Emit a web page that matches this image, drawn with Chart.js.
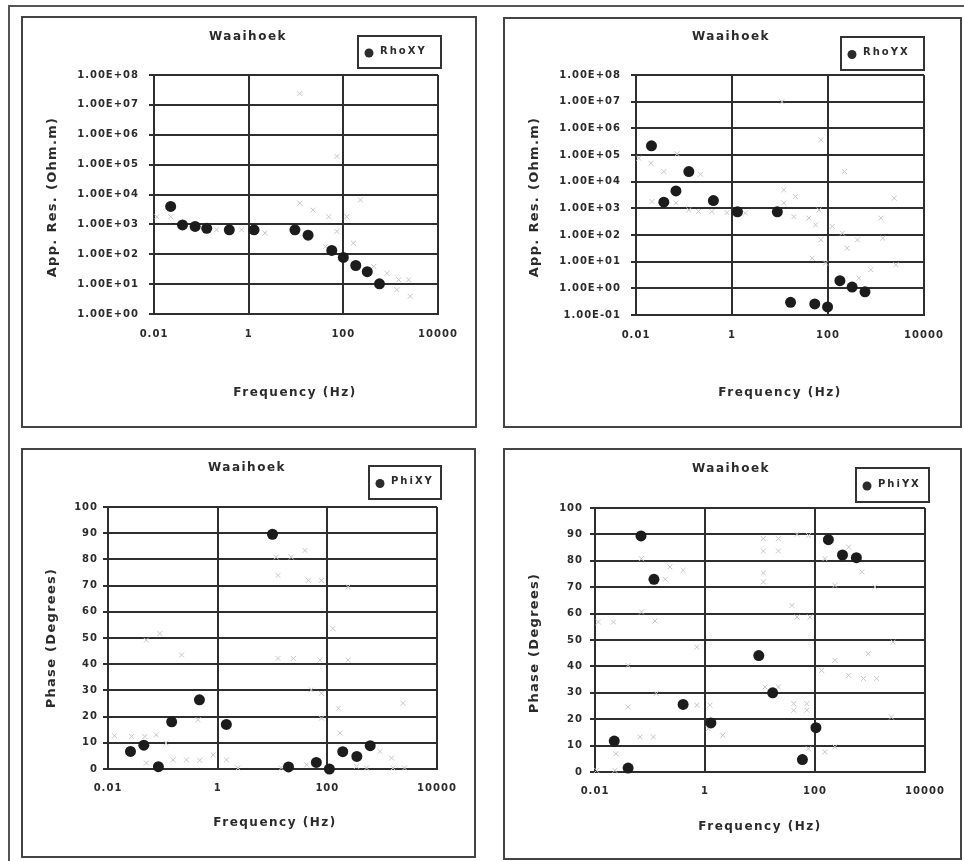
<!DOCTYPE html>
<html>
<head>
<meta charset="utf-8">
<script src="https://cdn.jsdelivr.net/npm/chart.js@4.4.1/dist/chart.umd.min.js"></script>
<style>
    body { margin: 0; background: #fff; width: 964px; height: 861px; overflow: hidden; position: relative; }
    .frame { position: absolute; left: 8px; top: 5px; width: 980px; height: 880px; border-left: 2px solid #555; border-top: 2px solid #555; }
    .panel { position: absolute; border: 2px solid #444; box-sizing: border-box; }
    .panel canvas { position: absolute; left: 0; top: 0; }
</style>
</head>
<body>
<div class="frame"></div>
<div class="panel" id="p1"><canvas id="c1"></canvas></div>
<div class="panel" id="p2"><canvas id="c2"></canvas></div>
<div class="panel" id="p3"><canvas id="c3"></canvas></div>
<div class="panel" id="p4"><canvas id="c4"></canvas></div>
<script>
// tick labels
var freqTicks = [0.01, 1, 100, 10000];
var freqLabels = ['0.01', '1', '100', '10000'];
var resTicksXY = [1, 10, 100, 1e3, 1e4, 1e5, 1e6, 1e7, 1e8];
var resTicksYX = [0.1, 1, 10, 100, 1e3, 1e4, 1e5, 1e6, 1e7, 1e8];

// RhoXY
var rhoXYFreq = [0.0225, 0.040, 0.074, 0.13, 0.39, 1.3, 9.5, 18, 57, 100, 183, 320, 580];
var rhoXYVal = [3980, 960, 850, 740, 660, 660, 660, 435, 134, 78, 42, 26, 10.2];
var rhoXYFaintFreq = [0.0115, 0.0225, 0.21, 0.71, 2.2, 12, 73, 12, 23, 49, 73, 118, 230, 42, 163, 440, 830, 1480, 2400, 1350, 2570];
var rhoXYFaintVal = [1800, 1800, 660, 660, 510, 2.4e7, 1.9e5, 5100, 3000, 1800, 580, 1800, 6600, 180, 235, 39, 23, 14, 14, 6.5, 3.9];

// RhoYX
var rhoYXFreq = [0.021, 0.038, 0.068, 0.126, 0.41, 1.3, 8.8, 16.6, 53, 98, 177, 318, 590];
var rhoYXVal = [2.2e5, 1700, 4500, 24000, 1950, 740, 740, 0.30, 0.26, 0.20, 1.93, 1.12, 0.74];
var rhoYXFaintFreq = [0.0114, 0.0205, 0.038, 0.072, 0.22, 0.0215, 0.068, 0.126, 0.2, 0.38, 0.79, 1.9, 11, 71, 220, 12, 21, 12, 19.5, 40, 65, 55, 123, 200, 410, 1380, 1260, 2400, 71, 47, 89, 250, 780, 440, 2600];
var rhoYXFaintVal = [7.6e4, 4.9e4, 2.4e4, 1.1e5, 1.9e4, 1800, 1600, 870, 760, 760, 690, 660, 1e7, 3.7e5, 2.4e4, 4900, 2800, 1600, 490, 430, 870, 240, 210, 117, 66, 76, 430, 2400, 66, 13.5, 8.9, 32, 5, 2.4, 7.6];

// PhiXY
var phiXYFreq = [0.0257, 0.045, 0.083, 0.145, 0.465, 1.44, 10, 19.6, 63, 109, 191, 345, 605];
var phiXYVal = [6.7, 9.1, 0.9, 18, 26.4, 17, 89.6, 0.8, 2.5, 0, 6.6, 4.8, 8.9];
var phiXYFaintFreq = [0.0132, 0.027, 0.047, 0.076, 0.114, 0.05, 0.154, 0.27, 0.47, 0.83, 1.45, 2.35, 0.05, 0.088, 0.22, 0.44, 11.7, 22, 39, 12.6, 45, 78, 240, 12.6, 24, 73, 240, 51, 78, 160, 78, 170, 2400, 910, 1480, 126, 14.5, 42, 340, 520, 1580, 2560];
var phiXYFaintVal = [12.7, 12.4, 12.4, 13, 9.9, 2.3, 3.5, 3.5, 3.3, 5.4, 3.5, 0.4, 49.2, 51.7, 43.5, 18.8, 80.9, 80.9, 83.4, 73.9, 72, 72, 69.5, 42.2, 42.2, 41.6, 41.6, 30.2, 28.9, 23.2, 19.4, 13.7, 25.1, 6.7, 4.2, 53.6, 0.4, 1.6, 1, 0.4, 0.4, 0.4];

// PhiYX
var phiYXFreq = [0.0224, 0.040, 0.0686, 0.118, 0.40, 1.28, 9.5, 17, 59, 104, 175, 316, 565];
var phiYXVal = [11.7, 1.5, 89.4, 73, 25.6, 18.6, 44.1, 30, 4.7, 16.8, 88, 82.2, 81.2];
var phiYXFaintFreq = [0.0107, 0.023, 0.024, 0.04, 0.066, 0.115, 0.13, 0.04, 0.0115, 0.0216, 0.07, 0.123, 0.07, 0.19, 0.23, 0.4, 0.71, 0.71, 1.23, 1.15, 2.1, 11.5, 21.6, 11.5, 21.6, 47, 76, 11.5, 11.5, 38, 47, 81, 12.3, 21.6, 41, 71, 41, 71, 76, 151, 230, 151, 410, 710, 230, 1230, 230, 132, 410, 760, 1320, 930, 2630, 2450];
var phiYXFaintVal = [0.6, 0.6, 6.9, 24.6, 13.3, 13.3, 29.7, 40.4, 56.8, 56.8, 60.6, 57.2, 80.8, 73, 77.7, 76.4, 47.3, 25.3, 25.3, 16.4, 13.9, 88.4, 88.4, 83.7, 83.7, 90, 89.6, 75.4, 72, 63.1, 58.7, 58.7, 32.2, 32.2, 25.9, 25.9, 23.4, 23.4, 8.8, 7.6, 9.5, 80.8, 85.2, 75.8, 70.7, 70.1, 42.3, 38.5, 36.6, 35.4, 35.4, 44.8, 49.2, 20.8];

var FONT = 'DejaVu Sans';
var INK = '#2b2b2b';

function pts(xs, ys) {
    return xs.map(function (x, i) { return { x: x, y: ys[i] }; });
}

function sciLabel(v) {
    var e = Math.round(Math.log10(v));
    return '1.00E' + (e < 0 ? '-' : '+') + String(Math.abs(e)).padStart(2, '0');
}

// titles, legend box, axis titles
var panelText = {
    id: 'panelText',
    beforeDraw: function (chart) {
        chart.ctx.letterSpacing = '1px';
    },
    afterDraw: function (chart, args, o) {
        var ctx = chart.ctx;
        ctx.save();
        ctx.translate(-o.ox, -o.oy);
        ctx.fillStyle = INK;
        ctx.textAlign = 'center';
        ctx.textBaseline = 'middle';

        ctx.letterSpacing = '1.5px';
        ctx.font = 'bold 12px ' + FONT;
        ctx.fillText('Waaihoek', o.title[0], o.title[1]);
        ctx.fillText('Frequency (Hz)', o.xTitle[0], o.xTitle[1]);

        ctx.save();
        ctx.letterSpacing = '1.3px';
        ctx.font = 'bold 13px ' + FONT;
        ctx.translate(o.yTitle[0], o.yTitle[1]);
        ctx.rotate(-Math.PI / 2);
        ctx.fillText(o.yText, 0, 0);
        ctx.restore();

        // legend
        var L = o.legend;
        ctx.strokeStyle = '#333';
        ctx.lineWidth = 2;
        ctx.strokeRect(L[0], L[1], L[2], L[3]);
        ctx.beginPath();
        ctx.arc(L[0] + 11, L[1] + L[3] / 2 + 1, 4.5, 0, Math.PI * 2);
        ctx.fill();
        ctx.textAlign = 'left';
        ctx.letterSpacing = '2px';
        ctx.font = 'bold 10px ' + FONT;
        ctx.fillText(o.name, L[0] + 22, L[1] + L[3] / 2 - 1);
        ctx.restore();
    }
};

function makePanel(n, lay, main, faint, yCfg) {
    var div = document.getElementById('p' + n);
    div.style.left = lay.box[0] + 'px';
    div.style.top = lay.box[1] + 'px';
    div.style.width = lay.box[2] + 'px';
    div.style.height = lay.box[3] + 'px';
    var cv = document.getElementById('c' + n);
    var ox = lay.box[0] + 2, oy = lay.box[1] + 2;
    var cw = lay.box[2] - 4, ch = lay.box[3] - 4;
    cv.width = cw;
    cv.height = ch;
    var p = lay.plot;

    var tickFont = { family: FONT, size: 10, weight: 'bold' };

    yCfg.afterFit = function (s) { s.width = p[0] - ox; };
    yCfg.grid = { color: '#2e2e2e', lineWidth: 2, drawTicks: true, tickLength: 5, tickColor: '#2e2e2e' };
    yCfg.border = { color: '#2e2e2e', width: 2 };
    yCfg.ticks.font = tickFont;
    yCfg.ticks.color = INK;
    yCfg.ticks.padding = lay.yPad;
    yCfg.ticks.autoSkip = false;

    return new Chart(cv, {
        type: 'scatter',
        data: {
            datasets: [{
                label: lay.name,
                data: main,
                pointRadius: 5.5,
                pointBackgroundColor: '#1c1c1c',
                pointBorderColor: '#1c1c1c',
                pointBorderWidth: 0,
                clip: false
            }, {
                label: 'faint',
                data: faint,
                pointStyle: 'crossRot',
                pointRadius: 3.5,
                pointBorderColor: '#c6c6c6',
                pointBorderWidth: 1,
                clip: false
            }]
        },
        options: {
            responsive: false,
            animation: false,
            events: [],
            layout: { padding: { left: 0, top: p[1] - oy, right: ox + cw - p[2], bottom: 0 } },
            scales: {
                x: {
                    type: 'logarithmic',
                    min: 0.01,
                    max: 10000,
                    afterBuildTicks: function (s) {
                        s.ticks = freqTicks.map(function (v) { return { value: v }; });
                    },
                    afterFit: function (s) { s.height = oy + ch - p[3]; },
                    ticks: {
                        callback: function (v) { return freqLabels[freqTicks.indexOf(v)]; },
                        font: tickFont,
                        color: INK,
                        padding: lay.xPad,
                        maxRotation: 0,
                        autoSkip: false
                    },
                    grid: { color: '#2e2e2e', lineWidth: 2, drawTicks: false },
                    border: { color: '#2e2e2e', width: 2 }
                },
                y: yCfg
            },
            plugins: {
                legend: { display: false },
                tooltip: { enabled: false },
                panelText: {
                    ox: ox, oy: oy,
                    title: lay.title, xTitle: lay.xTitle, yTitle: lay.yTitle,
                    yText: lay.yText, legend: lay.legend, name: lay.name
                }
            }
        },
        plugins: [panelText]
    });
}

function logY(list) {
    return {
        type: 'logarithmic',
        min: list[0],
        max: list[list.length - 1],
        afterBuildTicks: function (s) {
            s.ticks = list.map(function (v) { return { value: v }; });
        },
        ticks: { callback: function (v) { return sciLabel(v); } }
    };
}

function phaseY() {
    return {
        type: 'linear',
        min: 0,
        max: 100,
        ticks: { stepSize: 10 }
    };
}

makePanel(1, {
    box: [21, 16, 456, 412], plot: [154, 75, 438, 314],
    title: [248, 37], xTitle: [295, 393], yTitle: [53, 197], legend: [358, 36, 83, 32],
    yText: 'App. Res. (Ohm.m)', name: 'RhoXY', yPad: 10, xPad: 14
}, pts(rhoXYFreq, rhoXYVal), pts(rhoXYFaintFreq, rhoXYFaintVal), logY(resTicksXY));

makePanel(2, {
    box: [503, 17, 459, 411], plot: [636, 75, 924, 315],
    title: [731, 37], xTitle: [780, 393], yTitle: [535, 197], legend: [841, 37, 83, 33],
    yText: 'App. Res. (Ohm.m)', name: 'RhoYX', yPad: 10, xPad: 14
}, pts(rhoYXFreq, rhoYXVal), pts(rhoYXFaintFreq, rhoYXFaintVal), logY(resTicksYX));

makePanel(3, {
    box: [21, 448, 455, 410], plot: [108, 507, 437, 769],
    title: [247, 468], xTitle: [275, 823], yTitle: [52, 638], legend: [369, 466, 72, 33],
    yText: 'Phase (Degrees)', name: 'PhiXY', yPad: 5, xPad: 13
}, pts(phiXYFreq, phiXYVal), pts(phiXYFaintFreq, phiXYFaintVal), phaseY());

makePanel(4, {
    box: [503, 448, 459, 412], plot: [595, 508, 925, 772],
    title: [731, 469], xTitle: [760, 827], yTitle: [535, 643], legend: [856, 468, 73, 34],
    yText: 'Phase (Degrees)', name: 'PhiYX', yPad: 7, xPad: 13
}, pts(phiYXFreq, phiYXVal), pts(phiYXFaintFreq, phiYXFaintVal), phaseY());
</script>
</body>
</html>
